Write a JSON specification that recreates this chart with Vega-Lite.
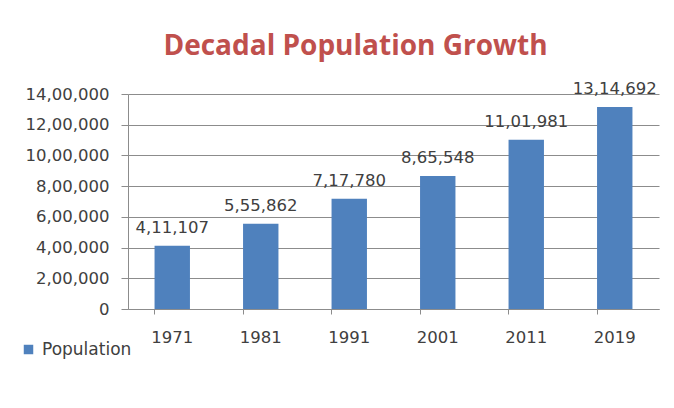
{
  "$schema": "https://vega.github.io/schema/vega-lite/v6.json",
  "width": 531,
  "height": 215,
  "autosize": {"type": "none"},
  "padding": {"left": 128, "top": 94, "right": 15, "bottom": 99},
  "background": "white",
  "title": {
    "text": "Decadal Population Growth",
    "font": "Open Sans",
    "fontSize": 28,
    "fontWeight": "bold",
    "color": "#c0504d",
    "anchor": "middle",
    "dx": -38,
    "offset": 20
  },
  "data": {
    "values": [
      {"year": "1971", "population": 411107, "label": "4,11,107", "series": "Population"},
      {"year": "1981", "population": 555862, "label": "5,55,862", "series": "Population"},
      {"year": "1991", "population": 717780, "label": "7,17,780", "series": "Population"},
      {"year": "2001", "population": 865548, "label": "8,65,548", "series": "Population"},
      {"year": "2011", "population": 1101981, "label": "11,01,981", "series": "Population"},
      {"year": "2019", "population": 1314692, "label": "13,14,692", "series": "Population"}
    ]
  },
  "encoding": {
    "x": {
      "field": "year",
      "type": "nominal",
      "sort": null,
      "title": null,
      "scale": {"paddingInner": 0.6, "paddingOuter": 0.3},
      "axis": {
        "labelAngle": 0,
        "labelFont": "DejaVu Sans",
        "labelFontSize": 16.5,
        "labelColor": "#404040",
        "labelPadding": 15,
        "domainColor": "#8c8c8c",
        "tickColor": "#8c8c8c",
        "tickSize": 5,
        "bandPosition": 0
      }
    },
    "y": {
      "field": "population",
      "type": "quantitative",
      "title": null,
      "scale": {"domain": [0, 1400000], "nice": false},
      "axis": {
        "values": [0, 200000, 400000, 600000, 800000, 1000000, 1200000, 1400000],
        "labelExpr": "datum.value == 0 ? '0' : format(datum.value / 100000, 'd') + ',00,000'",
        "labelFont": "DejaVu Sans",
        "labelFontSize": 16.5,
        "labelColor": "#404040",
        "labelPadding": 12,
        "tickSize": 7,
        "tickColor": "#8c8c8c",
        "domain": true,
        "domainColor": "#8c8c8c",
        "gridColor": "#8c8c8c",
        "gridOpacity": 1
      }
    }
  },
  "layer": [
    {
      "mark": {"type": "bar", "color": "#4f81bd"},
      "encoding": {
        "color": {
          "field": "series",
          "type": "nominal",
          "scale": {"range": ["#4f81bd"]},
          "legend": {
            "title": null,
            "orient": "none",
            "legendX": -108,
            "legendY": 247,
            "padding": 0,
            "symbolType": "square",
            "symbolSize": 90,
            "symbolStrokeWidth": 0,
            "labelFont": "DejaVu Sans",
            "labelFontSize": 17,
            "labelColor": "#404040",
            "labelOffset": 5
          }
        }
      }
    },
    {
      "mark": {"type": "text", "baseline": "bottom", "dy": -10, "font": "DejaVu Sans", "fontSize": 16.5, "color": "#404040"},
      "encoding": {"text": {"field": "label"}}
    }
  ],
  "config": {"view": {"stroke": null}}
}
